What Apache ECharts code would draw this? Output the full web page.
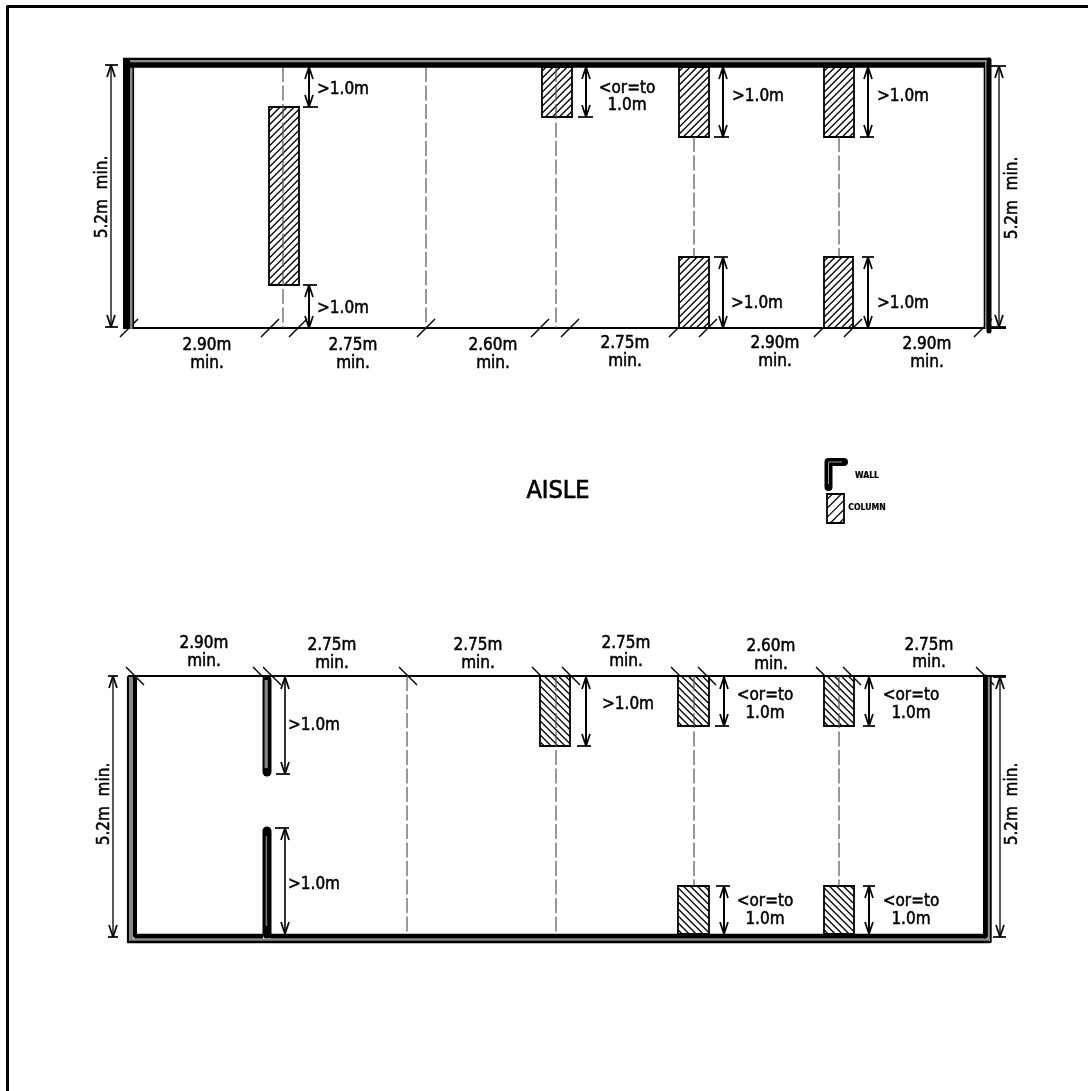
<!DOCTYPE html>
<html><head><meta charset="utf-8">
<style>html,body{margin:0;padding:0;background:#fff}#c{width:1088px;height:1091px}</style>
<script src="https://cdn.jsdelivr.net/npm/echarts@6/dist/echarts.min.js"></script>
</head><body><div id="c"></div>
<script>
// Drawing units are the sheet's own units on the hidden x / y axes.
// [colour, width, cap, points...]
const framePaths = [
  ['#000', 3, 'butt', [7.5,1091],[7.5,6.5],[1088,6.5]]
];
const baselines = [
  ['#000', 1.8, 'butt', [126,328],[1006,328]],
  ['#000', 1.8, 'butt', [128,676],[1006,676]]
];
const wallsTop = [
  ['#000', 7, 'butt', [126.5,58],[126.5,329]],
  ['#888', 3, 'butt', [131.5,60],[131.5,329]],
  ['#000', 1.6, 'butt', [133.3,66],[133.3,329]],
  ['#000', 2.4, 'butt', [123,59],[990,59]],
  ['#888', 2.6, 'butt', [130,61.3],[986,61.3]],
  ['#000', 5.4, 'butt', [130,65],[985,65]],
  ['#000', 1.6, 'butt', [984.5,66],[984.5,329]],
  ['#888', 2.6, 'butt', [986.3,62],[986.3,329]],
  ['#000', 5, 'round', [989,60],[989,331]]
];
const wallsBottom = [
  ['#000', 2.2, 'round', [128,677],[128,942]],
  ['#888', 4, 'butt', [131,677],[131,940]],
  ['#000', 4, 'round', [135,677],[135,936]],
  ['#000', 5, 'butt', [135,936.2],[263,936.2]],
  ['#000', 5, 'butt', [270,936.2],[986,936.2]],
  ['#888', 2.6, 'butt', [129,939.8],[989,939.8]],
  ['#000', 2.4, 'round', [128,942],[990,942]],
  ['#000', 5, 'round', [985.5,677],[985.5,936]],
  ['#888', 2.4, 'butt', [989,677],[989,940]],
  ['#000', 1.8, 'round', [990.8,677],[990.8,942]],
  ['#000', 9, 'round', [267,680],[267,772]],
  ['#888', 3.2, 'butt', [266.2,680],[266.2,768]],
  ['#000', 9, 'round', [267,831],[267,934]],
  ['#777', 1.6, 'butt', [266.4,836],[266.4,926]]
];
const legendWall = [
  ['#000', 8, 'round', [828.5,487],[828.5,462],[844,462]],
  ['#999', 1, 'butt', [828.5,484],[828.5,462],[842,462]]
];
const centreDashes = [
  [[283,67],[283,328]], [[426,67],[426,328]], [[556,67],[556,328]],
  [[694,137],[694,257]], [[839,137],[839,257]],
  [[407,676],[407,934]], [[556,676],[556,934]],
  [[694,676],[694,886]], [[839,676],[839,886]]
];
const slashCentresTop = [129,270,298,426,540,570,678,708,823,853,983];
const slashCentresBottom = [135,262,272,408,541,571,680,707,825,852,985];
// [x0, y0, x1, y1, hatch direction, hatch step]
const columnRects = [
  [269,107,299,285, 1,7],[542,67,572,117, 1,7],[679,67,709,137, 1,7],
  [679,257,709,328, 1,7],[824,67,854,137, 1,7],[824,257,853,328, 1,7],
  [540,676,570,746,-1,7],[678,676,709,726,-1,7],[678,886,709,934,-1,7],
  [824,676,854,726,-1,7],[824,886,854,934,-1,7],
  [827,494,844,523, 1,9]
];
// [x, y0, y1, tickX0, tickX1, tickAtY0, tickAtY1, line width]
const dimArrows = [
  [111,65,327,105,118,1,1,1.3],[999,66,327,991,1006,1,1,1.3],
  [309,67,107,303,318,0,1,2],[309,285,328,303,317,1,0,2],
  [586,67,117,578,593,0,1,2],[723,67,137,714,729,0,1,2],[723,257,328,714,728,1,0,2],
  [868,67,137,860,874,0,1,2],[868,257,328,862,874,1,0,2],
  [113,676,937,108,118,1,1,1.3],[1000,677,937,993,1006,1,1,1.3],
  [285,677,774,276,290,0,1,1.6],[285,828,934,275,289,1,0,1.6],
  [586,677,746,577,591,0,1,2],[724,677,726,715,729,0,1,2],[724,886,934,716,730,1,0,2],
  [869,677,726,863,875,0,1,2],[869,886,934,863,875,1,0,2]
];
// [text, x, y]
const spanLabels = [
  ['2.90m',207,345],['min.',207,363],['2.75m',353,345],['min.',353,363],
  ['2.60m',493,345],['min.',493,363],['2.75m',625,343],['min.',625,361],
  ['2.90m',775,343],['min.',775,361],['2.90m',927,344],['min.',927,362],
  ['2.90m',204,643],['min.',204,661],['2.75m',332,645],['min.',332,663],
  ['2.75m',478,645],['min.',478,663],['2.75m',626,643],['min.',626,661],
  ['2.60m',771,646],['min.',771,664],['2.75m',929,645],['min.',929,662]
];
const clearanceLabels = [
  ['>1.0m',343,88],['>1.0m',343,307],['<or=to',627,87],['1.0m',627,104],
  ['>1.0m',758,95],['>1.0m',757,302],['>1.0m',903,95],['>1.0m',903,302],
  ['>1.0m',314,724],['>1.0m',314,883],['>1.0m',628,703],
  ['<or=to',765,694],['1.0m',765,712],['<or=to',765,900],['1.0m',765,918],
  ['<or=to',911,694],['1.0m',911,712],['<or=to',911,900],['1.0m',911,918]
];
const heightLabels = [
  ['5.2m  min.',102,197],['5.2m  min.',1012,198],
  ['5.2m  min.',104,804],['5.2m  min.',1012,804]
];
const titleLabels = [['AISLE',558,490]];
const legendLabels = [['WALL',867,476],['COLUMN',867,508]];

const FONT = '"DejaVu Sans Condensed","Liberation Sans",sans-serif';

function pathSeries(p, z){
  return {type:'line', coordinateSystem:'cartesian2d', data:p.slice(3), showSymbol:false,
    symbol:'none', silent:true, animation:false, z:z, clip:false,
    lineStyle:{color:p[0], width:p[1], cap:p[2], join:'round'}};
}
function dashSeries(pts){
  return {type:'line', data:pts, showSymbol:false, symbol:'none', silent:true, animation:false, z:4,
    lineStyle:{color:'#555', width:1.2, type:[15,3.5]}};
}
function slashSeries(cs, y, dir){
  return {type:'custom', data:cs.map(c=>[c]), silent:true, animation:false, z:2, clip:false,
    encode:{x:0}, renderItem(ctx, api){
      const c=api.value(0), a=api.coord([c-9,y+9*dir]), b=api.coord([c+9,y-9*dir]);
      return {type:'line', shape:{x1:a[0],y1:a[1],x2:b[0],y2:b[1]}, style:{stroke:'#000',lineWidth:1.4}};
    }};
}
function hatchSegments(x0,y0,x1,y1,dir,step){
  const out=[], w=x1-x0, h=y1-y0;
  for(let t=step*0.6;t<w+h;t+=step){
    const ax=Math.min(t,w), ay=t-ax, by=Math.min(t,h), bx=t-by;
    // a corner-based frame: dir 1 gives strokes that rise to the right, -1 falling ones
    if(dir>0) out.push([x0+ax,y0+ay,x0+bx,y0+by]);
    else out.push([x0+ax,y1-ay,x0+bx,y1-by]);
  }
  return out;
}
const columnSeries = {type:'custom', data:columnRects, silent:true, animation:false, z:3,
  encode:{x:[0,2],y:[1,3]}, renderItem(ctx, api){
    const v=[0,1,2,3,4,5].map(i=>api.value(i));
    const a=api.coord([v[0],v[1]]), b=api.coord([v[2],v[3]]);
    const kids=[{type:'rect',shape:{x:a[0],y:a[1],width:b[0]-a[0],height:b[1]-a[1]},style:{fill:'#fff'}}];
    hatchSegments(v[0],v[1],v[2],v[3],v[4],v[5]).forEach(s=>{
      const p=api.coord([s[0],s[1]]), q=api.coord([s[2],s[3]]);
      kids.push({type:'line',shape:{x1:p[0],y1:p[1],x2:q[0],y2:q[1]},style:{stroke:'#000',lineWidth:1.3}});
    });
    kids.push({type:'rect',shape:{x:a[0],y:a[1],width:b[0]-a[0],height:b[1]-a[1]},style:{fill:'none',stroke:'#000',lineWidth:1.8}});
    return {type:'group',children:kids};
  }};
const arrowSeries = {type:'custom', data:dimArrows, silent:true, animation:false, z:6, clip:false,
  encode:{x:0,y:[1,2]}, renderItem(ctx, api){
    const x=api.value(0), y0=api.value(1), y1=api.value(2), t0=api.value(3), t1=api.value(4), lw=api.value(7);
    const kids=[]; const seg=(xa,ya,xb,yb,w)=>{const p=api.coord([xa,ya]),q=api.coord([xb,yb]);
      kids.push({type:'line',shape:{x1:p[0],y1:p[1],x2:q[0],y2:q[1]},style:{stroke:'#000',lineWidth:w}});};
    seg(x,y0,x,y1,lw);
    seg(x,y0,x-4,y0+12,1.7); seg(x,y0,x+4,y0+12,1.7);
    seg(x,y1,x-4,y1-12,1.7); seg(x,y1,x+4,y1-12,1.7);
    if(api.value(5)) seg(t0,y0,t1,y0,1.7);
    if(api.value(6)) seg(t0,y1,t1,y1,1.7);
    return {type:'group',children:kids};
  }};
function textSeries(rows, size, weight, rotate, bolden, nudge){
  return {type:'custom', data:rows.map(r=>[r[1],r[2],r[0]]), silent:true, animation:false, z:8, clip:false,
    encode:{x:0,y:1}, renderItem(ctx, api){
      const p=api.coord([api.value(0),api.value(1)]);
      return {type:'text', x:p[0], y:p[1], rotation:rotate||0,
        style:{text:rows[ctx.dataIndex][0], x:0, y:nudge||0, align:'center', verticalAlign:'middle',
          font:weight+' '+size+'px '+FONT, fill:'#000', stroke:'#000', lineWidth:bolden||0}};
    }};
}
const series = [
  ...framePaths.map(p=>pathSeries(p,1)),
  ...baselines.map(p=>pathSeries(p,1)),
  slashSeries(slashCentresTop,328,1),
  slashSeries(slashCentresBottom,676,-1),
  columnSeries,
  ...centreDashes.map(dashSeries),
  ...wallsTop.map(p=>pathSeries(p,5)),
  ...wallsBottom.map(p=>pathSeries(p,5)),
  ...legendWall.map(p=>pathSeries(p,5)),
  arrowSeries,
  textSeries(spanLabels,17,'normal',0,0.5,1),
  textSeries(clearanceLabels,17,'normal',0,0.5,1.5),
  textSeries(heightLabels,17,'normal',Math.PI/2,0.5,1),
  textSeries(titleLabels,25,'normal',0,0.7,1),
  textSeries(legendLabels,8.6,'bold',0,0.2,0)
];
const chart = echarts.init(document.getElementById('c'), null, {renderer:'canvas', width:1088, height:1091});
chart.setOption({
  animation:false, backgroundColor:'#fff',
  grid:{left:0,right:0,top:0,bottom:0,containLabel:false},
  xAxis:{type:'value',min:0,max:1088,show:false},
  yAxis:{type:'value',min:0,max:1091,inverse:true,show:false},
  series
});
</script></body></html>
